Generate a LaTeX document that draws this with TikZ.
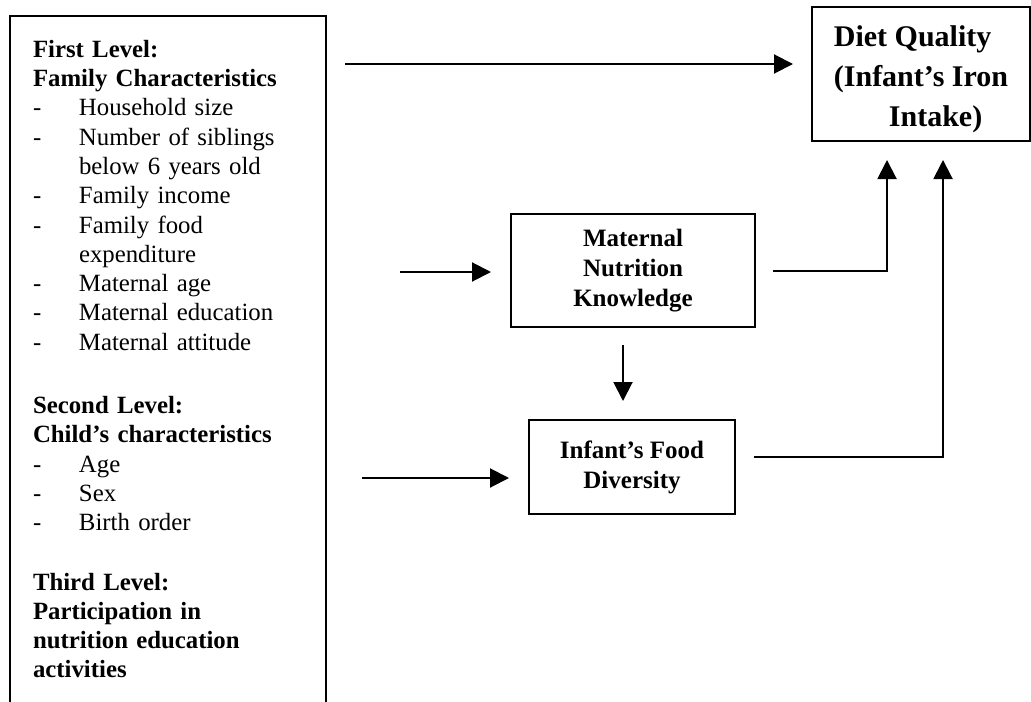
\documentclass[tikz,border=0pt]{standalone}
\usepackage{fontspec}
\setmainfont{Liberation Serif}
\usetikzlibrary{arrows.meta,positioning}
\newcommand{\dashitem}[1]{\makebox[23pt][l]{-}#1}
\tikzset{
  box/.style={draw, line width=1pt, rectangle, font=\bfseries\fontsize{12.5}{15}\selectfont, align=center},
  arr/.style={line width=1pt, -{Triangle[length=9.5pt,width=9.5pt]}},
}

\begin{document}
\begin{tikzpicture}[x=0.5pt, y=-0.5pt]
\useasboundingbox (0,0) rectangle (1031,701);
\clip (0,0) rectangle (1031,701);

% left box with the three levels
\node[draw, line width=1pt, anchor=north west, text width=135pt, inner xsep=11.5pt, inner ysep=12pt, align=left, font=\fontsize{12.4}{14.65}\selectfont] (levels) at (9,15) {%
\textbf{First Level:}\\
\textbf{Family Characteristics}\\
\dashitem{Household size}\\
\dashitem{Number of siblings}\\
\hspace*{23pt}below 6 years old\\
\dashitem{Family income}\\
\dashitem{Family food}\\
\hspace*{23pt}expenditure\\
\dashitem{Maternal age}\\
\dashitem{Maternal education}\\
\dashitem{Maternal attitude}\\[17pt]
\textbf{Second Level:}\\
\textbf{Child’s characteristics}\\
\dashitem{Age}\\
\dashitem{Sex}\\
\dashitem{Birth order}\\[15pt]
\textbf{Third Level:}\\
\textbf{Participation in}\\
\textbf{nutrition education}\\
\textbf{activities}\\[30pt]
\mbox{}};

% outcome and mediators
\node[box, anchor=north west, minimum width=109pt, minimum height=67pt, align=left, font=\bfseries\fontsize{15}{20}\selectfont] (diet) at (811,6) {\rule{0pt}{16pt}Diet Quality\\(Infant’s Iron\\\hspace*{27.5pt}Intake)};
\node[box, minimum width=122pt, minimum height=56.5pt] (knowledge) at (633,270.5) {Maternal\\Nutrition\\Knowledge};
\node[box, minimum width=103pt, minimum height=47pt] (diversity) at (632,467) {Infant’s Food\\Diversity};

% free ends of the arrows
\coordinate (in1) at (345,64);
\coordinate (in2) at (400,272);
\coordinate (in3) at (362,478);
\coordinate (up1) at (887,160);
\coordinate (up2) at (943,160);
\coordinate (kn) at ([xshift=-5pt]knowledge.south);

\draw[arr, shorten >=9pt] (in1) -- (in1 -| diet.west);
\draw[arr, shorten >=9.5pt] (in2) -- (in2 -| knowledge.west);
\draw[arr, shorten >=9.5pt] (in3) -- (in3 -| diversity.west);
\draw[arr] ([xshift=8.5pt]knowledge.east) -| (up1);
\draw[arr] ([xshift=9pt,yshift=5pt]diversity.east) -| (up2);
\draw[arr, shorten <=8.5pt, shorten >=9pt] (kn) -- (kn |- diversity.north);
\end{tikzpicture}
\end{document}
